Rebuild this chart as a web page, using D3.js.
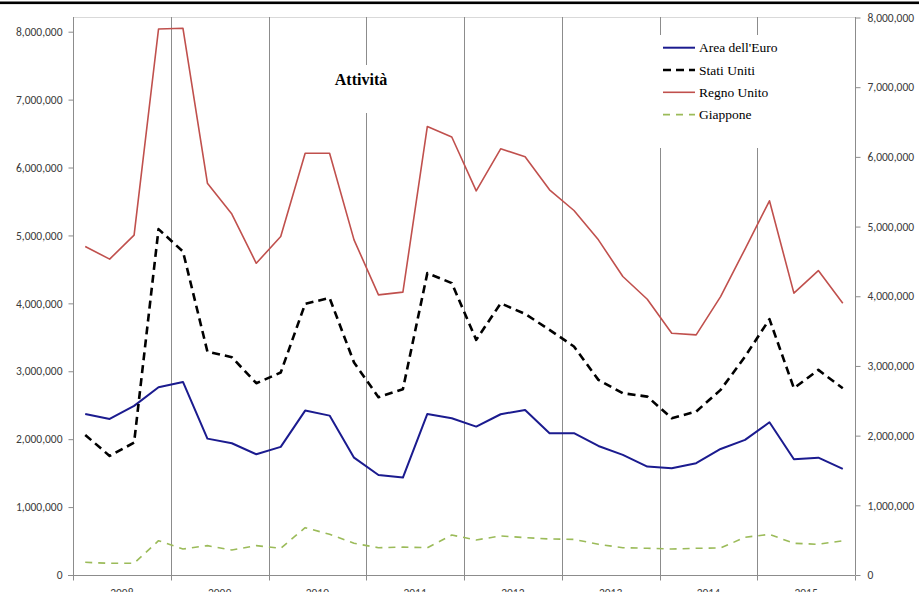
<!DOCTYPE html>
<html>
<head>
<meta charset="utf-8">
<script src="https://cdn.jsdelivr.net/npm/d3@7"></script>
<style>
  body { margin: 0; background: #fff; }
  svg { display: block; }
</style>
</head>
<body>
<div id="chart"></div>
<script>
// quarterly data 2008Q1 - 2015Q4
const years = ["2008", "2009", "2010", "2011", "2012", "2013", "2014", "2015"];
const quarters = years.flatMap(y => ["Q1", "Q2", "Q3", "Q4"].map(q => y + q));

const areaEuro = [2372000, 2298000, 2490000, 2765000, 2843000, 2008000, 1940000, 1778000,
  1886000, 2421000, 2347000, 1728000, 1473000, 1434000, 2372000, 2309000,
  2185000, 2367000, 2431000, 2088000, 2088000, 1900000, 1768000, 1596000,
  1572000, 1646000, 1856000, 1989000, 2249000, 1705000, 1728000, 1562000];
const statiUniti = [2063000, 1753000, 1949000, 5093000, 4763000, 3290000, 3207000, 2824000,
  2981000, 3993000, 4080000, 3128000, 2618000, 2736000, 4445000, 4298000,
  3462000, 4000000, 3845000, 3610000, 3364000, 2873000, 2677000, 2627000,
  2309000, 2406000, 2726000, 3216000, 3767000, 2750000, 3020000, 2750000];
const regnoUnito = [4837000, 4651000, 5005000, 8040000, 8050000, 5770000, 5314000, 4590000,
  4985000, 6210000, 6210000, 4935000, 4125000, 4165000, 6605000, 6450000,
  5657000, 6276000, 6158000, 5672000, 5367000, 4935000, 4395000, 4060000,
  3560000, 3536000, 4100000, 4800000, 5510000, 4150000, 4483000, 4000000];
const giappone = [187000, 172000, 172000, 505000, 383000, 432000, 368000, 432000,
  393000, 697000, 599000, 467000, 402000, 410000, 402000, 589000,
  516000, 575000, 550000, 530000, 525000, 452000, 402000, 393000,
  383000, 393000, 398000, 555000, 599000, 467000, 452000, 505000];
const yTicks = [0, 1000000, 2000000, 3000000, 4000000, 5000000, 6000000, 7000000, 8000000];

const series = [
  { name: "Area dell'Euro", values: areaEuro, color: "#1b1b8f", width: 2, dash: null },
  { name: "Stati Uniti", values: statiUniti, color: "#000", width: 2.6, dash: "8,5" },
  { name: "Regno Unito", values: regnoUnito, color: "#c0504d", width: 1.6, dash: null },
  { name: "Giappone", values: giappone, color: "#9bbb59", width: 1.6, dash: "7,6" }
];

const width = 919, height = 592;
const plot = { left: 73, right: 855, top: 17, bottom: 575 };
const axisFont = "Carlito, Lato, 'Liberation Sans', sans-serif";
const textCol = "#3b3b3b";

const svg = d3.select("#chart").append("svg")
  .attr("width", width).attr("height", height);

// thick rule on top of page
svg.append("rect").attr("x", 0).attr("y", 1.5).attr("width", width).attr("height", 2.6).attr("fill", "#000");

const x = d3.scaleBand().domain(quarters).range([plot.left, plot.right]);
const xYear = d3.scaleBand().domain(years).range([plot.left, plot.right]);
const yLeft = d3.scaleLinear().domain([0, 8000000]).range([plot.bottom, 31.7]);
const yRight = d3.scaleLinear().domain([0, 8000000]).range([plot.bottom, plot.top + 0.5]);

// plot area frame (top)
svg.append("line")
  .attr("x1", plot.left).attr("x2", plot.right)
  .attr("y1", plot.top + 0.5).attr("y2", plot.top + 0.5)
  .attr("stroke", "#d9d9d9");

// vertical year gridlines
svg.append("g").selectAll("line")
  .data(years.slice(1))
  .join("line")
  .attr("x1", d => Math.round(xYear(d)) + 0.5).attr("x2", d => Math.round(xYear(d)) + 0.5)
  .attr("y1", plot.top).attr("y2", plot.bottom)
  .attr("stroke", "#8c8c8c");

// left axis
const leftAxis = svg.append("g")
  .attr("transform", `translate(${plot.left + 0.5},0)`)
  .call(d3.axisLeft(yLeft).tickValues(yTicks).tickSize(5).tickPadding(6)
    .tickFormat(d3.format(",")))
  .call(g => g.select(".domain").remove());
leftAxis.append("line").attr("y1", plot.top).attr("y2", plot.bottom).attr("stroke", "#8c8c8c");

// right axis
const rightAxis = svg.append("g")
  .attr("transform", `translate(${plot.right + 0.5},0)`)
  .call(d3.axisRight(yRight).tickValues(yTicks).tickSize(5).tickPadding(7)
    .tickFormat(d3.format(",")))
  .call(g => g.select(".domain").remove());
rightAxis.append("line").attr("y1", plot.top).attr("y2", plot.bottom).attr("stroke", "#8c8c8c");

[leftAxis, rightAxis].forEach(g => {
  g.selectAll(".tick line").attr("stroke", "#8c8c8c");
  g.selectAll("text").attr("fill", textCol).style("font-family", axisFont).style("font-size", "11.5px");
});

// bottom axis
const bottom = svg.append("g").attr("transform", `translate(0,${plot.bottom + 0.5})`);
bottom.append("line").attr("x1", plot.left - 5).attr("x2", plot.right)
  .attr("stroke", "#8c8c8c");
bottom.selectAll("line.tk")
  .data(years.concat(["end"]))
  .join("line").attr("class", "tk")
  .attr("x1", d => Math.round(d === "end" ? plot.right : xYear(d)) + 0.5)
  .attr("x2", d => Math.round(d === "end" ? plot.right : xYear(d)) + 0.5)
  .attr("y1", 0).attr("y2", 5)
  .attr("stroke", "#8c8c8c");
bottom.selectAll("text")
  .data(years)
  .join("text")
  .attr("x", d => xYear(d) + xYear.bandwidth() / 2)
  .attr("y", 21.5)
  .attr("text-anchor", "middle")
  .attr("fill", textCol)
  .style("font-family", axisFont).style("font-size", "11.5px")
  .text(d => d);

// series lines
const line = d3.line()
  .x((d, i) => x(quarters[i]) + x.bandwidth() / 2)
  .y(d => yLeft(d));

svg.append("g").selectAll("path")
  .data(series)
  .join("path")
  .attr("d", d => line(d.values))
  .attr("fill", "none")
  .attr("stroke", d => d.color)
  .attr("stroke-width", d => d.width)
  .attr("stroke-dasharray", d => d.dash)
  .attr("stroke-linejoin", "round");

// title box
svg.append("rect").attr("x", 328).attr("y", 65).attr("width", 66).attr("height", 48).attr("fill", "#fff");
svg.append("text")
  .attr("x", 361).attr("y", 85)
  .attr("text-anchor", "middle")
  .style("font-family", "'Liberation Serif', 'Times New Roman', serif")
  .style("font-weight", "bold").style("font-size", "16px")
  .attr("fill", "#000")
  .text("Attività");

// legend
const legend = svg.append("g");
legend.append("rect").attr("x", 652).attr("y", 35).attr("width", 140).attr("height", 113).attr("fill", "#fff");
const items = legend.selectAll("g.item")
  .data(series)
  .join("g").attr("class", "item")
  .attr("transform", (d, i) => `translate(663,${47.7 + i * 22.3})`);
items.append("line")
  .attr("x1", 0).attr("x2", 32)
  .attr("stroke", d => d.color)
  .attr("stroke-width", d => d.width)
  .attr("stroke-dasharray", d => d.dash);
items.append("text")
  .attr("x", 36).attr("y", 4.5)
  .style("font-family", "'Liberation Serif', 'Times New Roman', serif")
  .style("font-size", "13.5px")
  .attr("fill", "#000")
  .text(d => d.name);
</script>
</body>
</html>
